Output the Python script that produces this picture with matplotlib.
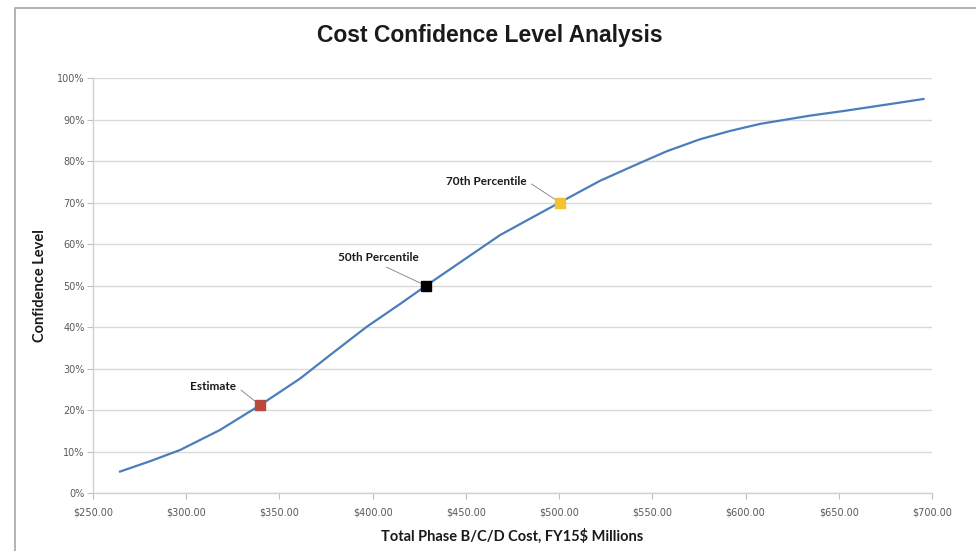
import numpy as np
import matplotlib
matplotlib.use("Agg")
import matplotlib.pyplot as plt
from matplotlib.patches import Rectangle
from matplotlib.ticker import FuncFormatter

# cost curve ($M, confidence %)
cost = [264.5, 280, 296.7, 318, 339.6, 361, 378.9, 396.8, 414.7, 428.6,
        450.4, 468.3, 486.2, 500.5, 522, 539.9, 557.7, 575.6, 591.7, 607.8,
        634.7, 652.5, 679.3, 695.4]
conf = [5.2, 7.6, 10.4, 15.2, 21.2, 27.6, 33.9, 40.1, 45.6, 50.0,
        56.7, 62.2, 66.6, 70.1, 75.3, 78.9, 82.4, 85.3, 87.3, 89.0,
        91.0, 92.1, 93.9, 95.0]

# highlighted points
pt_labels = ["Estimate", "50th Percentile", "70th Percentile"]
pt_cost = [339.6, 428.6, 500.5]
pt_conf = [21.2, 50.0, 70.0]
pt_colors = ["#b9483f", "#000000", "#f2c230"]
pt_offsets = [(-47, 19), (-48, 28), (-74, 21)]
pt_relpos = [(1.0, 0.5), (0.5, 0.0), (1.0, 0.6)]

fig = plt.figure(figsize=(9.76, 5.51), dpi=100)
ax = fig.add_axes([0.0953, 0.105, 0.8597, 0.753])

ax.plot(cost, conf, color="#4a7ebb", lw=1.6, zorder=3, solid_joinstyle="round")

for lab, cx, cy, col, off, rp in zip(pt_labels, pt_cost, pt_conf, pt_colors, pt_offsets, pt_relpos):
    ax.plot([cx], [cy], marker="s", ms=7, color=col, mec=col, zorder=4, ls="none")
    ax.annotate(lab, xy=(cx, cy), xytext=off, textcoords="offset pixels",
                ha="center", va="center", fontsize=8.5, fontweight="bold",
                family="Lato", color="#1a1a1a",
                arrowprops=dict(arrowstyle="-", color="#7f7f7f", lw=0.6,
                                relpos=rp, shrinkA=2, shrinkB=4))

ax.set_xlim(250, 700)
ax.set_ylim(0, 100)
ax.set_xticks(np.arange(250, 701, 50))
ax.set_yticks(np.arange(0, 101, 10))
ax.xaxis.set_major_formatter(FuncFormatter(lambda v, p: "${:.2f}".format(v)))
ax.yaxis.set_major_formatter(FuncFormatter(lambda v, p: "{:.0f}%".format(v)))
ax.tick_params(axis="both", labelsize=7, colors="#bfbfbf", labelcolor="#595959",
               length=4, width=0.8)
ax.tick_params(axis="x", pad=6)
ax.tick_params(axis="y", pad=2)

ax.grid(axis="y", color="#d9d9d9", lw=1)
ax.set_axisbelow(True)
for s in ["top", "right"]:
    ax.spines[s].set_visible(False)
for s in ["left", "bottom"]:
    ax.spines[s].set_color("#d0d0d0")
    ax.spines[s].set_linewidth(1)

ax.set_ylabel("Confidence Level", fontsize=10.5, fontweight="bold", family="Lato",
              color="#1a1a1a", labelpad=7)
ax.set_xlabel("Total Phase B/C/D Cost, FY15$ Millions", fontsize=10.5,
              fontweight="bold", family="Lato", color="#1a1a1a", labelpad=8)

fig.text(0.502, 0.936, "Cost Confidence Level Analysis", ha="center", va="center",
         fontsize=16.5, fontweight="bold", family="Liberation Sans", color="#1a1a1a")

# chart border
fig.patches.append(Rectangle((15 / 976, -0.02), 1.0, 1 - 8 / 551 + 0.02,
                             transform=fig.transFigure, fill=False,
                             ec="#a6a6a6", lw=1.2))

fig.savefig("out.png", dpi=100)
